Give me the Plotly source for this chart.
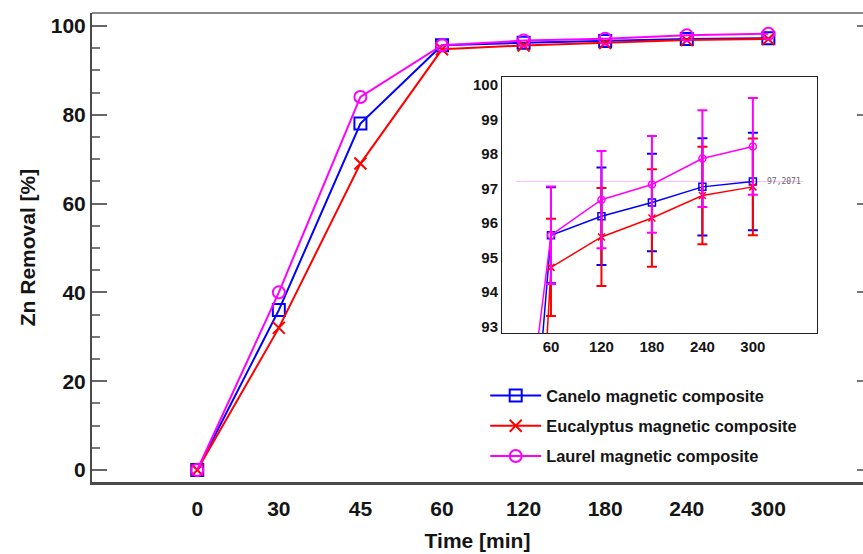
import plotly.graph_objects as go

# Contact time categories (min)
time_labels = ["0", "30", "45", "60", "120", "180", "240", "300"]

# Zn removal (%) for each magnetic composite
canelo = [0.0, 36.0, 78.0, 95.65, 96.2, 96.6, 97.05, 97.2071]
eucalyptus = [0.0, 32.0, 69.0, 94.72, 95.6, 96.15, 96.8, 97.05]
laurel = [0.0, 40.0, 84.0, 95.65, 96.68, 97.12, 97.87, 98.22]

# Standard deviations for the 60-300 min points (zoomed view)
canelo_err = [1.39, 1.41, 1.41, 1.41, 1.41]
eucalyptus_err = [1.41, 1.42, 1.41, 1.41, 1.40]
laurel_err = [1.41, 1.41, 1.40, 1.40, 1.40]

series_names = ["Canelo magnetic composite",
                "Eucalyptus magnetic composite",
                "Laurel magnetic composite"]
series_values = [canelo, eucalyptus, laurel]
series_errors = [canelo_err, eucalyptus_err, laurel_err]
colors = ["#0000FF", "#FF0000", "#FF00FF"]
symbols = ["square-open", "x-thin-open", "circle-open"]

FONT = "Liberation Sans, Arial, sans-serif"
INK = "#151515"

fig = go.Figure()

# Main panel
for i, (name, vals, col, sym) in enumerate(zip(series_names, series_values, colors, symbols)):
    fig.add_trace(go.Scatter(
        x=time_labels, y=vals, name=name, mode="lines+markers",
        legendgroup=f"g{i}",
        line=dict(color=col, width=2),
        marker=dict(symbol=sym, size=12, color=col, line=dict(color=col, width=2)),
        xaxis="x", yaxis="y",
    ))

# Zoomed inset with error bars
for name, vals, errs, col, sym in zip(series_names, series_values, series_errors, colors, symbols):
    pad = [0] * (len(vals) - len(errs))
    fig.add_trace(go.Scatter(
        x=time_labels, y=vals, name=name, mode="lines+markers", showlegend=False,
        line=dict(color=col, width=1.5),
        marker=dict(symbol=sym, size=7, color=col, line=dict(color=col, width=1.5)),
        error_y=dict(type="data", array=pad + errs, color=col, thickness=2, width=5),
        xaxis="x2", yaxis="y2",
    ))

# Right-hand tick marks of the main frame
fig.add_trace(go.Scatter(x=[], y=[], xaxis="x", yaxis="y3", showlegend=False, hoverinfo="skip"))

# Top edge of the main frame
fig.add_shape(type="line", xref="paper", yref="paper", x0=0, x1=1, y0=1, y1=1,
              line=dict(color="#8a8a8a", width=2))

# Data-cursor readout on the last Canelo point
cursor_val = canelo[-1]
fig.add_shape(type="line", xref="x2", yref="y2", x0=2.31, x1=8.0,
              y0=cursor_val, y1=cursor_val, line=dict(color="#FFB8FF", width=1), layer="below")
fig.add_annotation(xref="x2", yref="y2", x=7.62, y=cursor_val,
                   text=f"{cursor_val:.4f}".replace(".", ","), showarrow=False,
                   font=dict(family="DejaVu Sans Mono, monospace", size=8, color="#666666"))

fig.update_layout(
    width=863, height=554,
    margin=dict(l=92, r=0, t=13, b=72),
    paper_bgcolor="white", plot_bgcolor="white",
    showlegend=True,
    legend=dict(x=0.51, y=0.12, xanchor="left", yanchor="middle",
                font=dict(family=FONT, size=16.4, color=INK, weight="bold"),
                bgcolor="rgba(0,0,0,0)", itemwidth=51,
                traceorder="grouped", tracegroupgap=6),
    xaxis=dict(
        type="category", categoryorder="array", categoryarray=time_labels,
        range=[-1.29, 8.16], domain=[0, 1],
        showline=True, linecolor="#4a4a4a", linewidth=2.5,
        ticks="", showgrid=False, zeroline=False,
        tickfont=dict(family=FONT, size=21, color=INK, weight="bold"),
        ticklabelstandoff=6,
        title=dict(text="Time [min]", font=dict(family=FONT, size=21, color=INK, weight="bold"),
                   standoff=15),
    ),
    yaxis=dict(
        range=[-2.7, 102.9], domain=[0, 1], tickvals=[0, 20, 40, 60, 80, 100],
        showline=True, linecolor="#4a4a4a", linewidth=2,
        ticks="inside", ticklen=15, tickwidth=2, tickcolor="#666666",
        minor=dict(dtick=5, ticks="inside", ticklen=8, tickwidth=2, tickcolor="#777777"),
        showgrid=False, zeroline=False,
        tickfont=dict(family=FONT, size=21, color=INK, weight="bold"),
        title=dict(text="Zn Removal [%]", font=dict(family=FONT, size=21, color=INK, weight="bold"),
                   standoff=9),
    ),
    yaxis3=dict(
        overlaying="y", side="right", anchor="free", position=1,
        range=[-2.7, 102.9], tickvals=[0, 20, 40, 60, 80, 100],
        showline=False, ticks="inside", ticklen=6, tickwidth=2, tickcolor="#777777",
        showticklabels=False, showgrid=False, zeroline=False,
    ),
    xaxis2=dict(
        type="category", categoryorder="array", categoryarray=time_labels,
        range=[2.03, 8.27], domain=[0.5318, 0.9403], anchor="y2",
        showline=True, linecolor="#222222", linewidth=1, mirror=True,
        ticks="", showgrid=False, zeroline=False,
        tickfont=dict(family=FONT, size=15, color=INK, weight="bold"),
    ),
    yaxis2=dict(
        range=[92.82, 100.23], domain=[0.3177, 0.8635], anchor="x2",
        dtick=1, showline=True, linecolor="#222222", linewidth=1, mirror=True,
        ticks="", showgrid=False, zeroline=False,
        tickfont=dict(family=FONT, size=15, color=INK, weight="bold"),
    ),
)

fig.write_html("out.html")
